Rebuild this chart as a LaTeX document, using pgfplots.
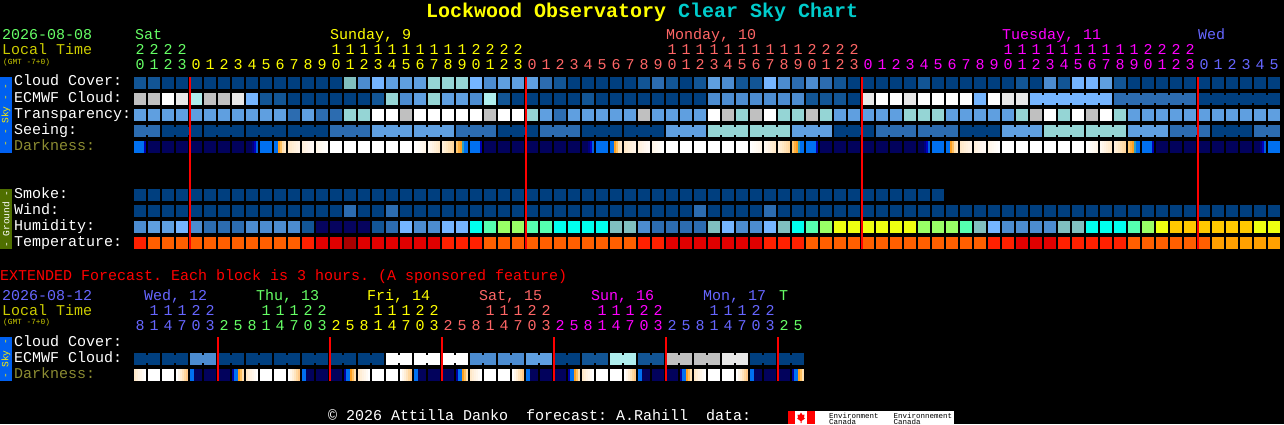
\documentclass[border=0pt]{standalone}
\usepackage{pgfplots}
\pgfplotsset{compat=1.18}
\usepackage{fontspec}
\setmainfont{Liberation Mono}
\definecolor{ca}{HTML}{003F7F}\definecolor{cb}{HTML}{125595}\definecolor{cc}{HTML}{2C6CB0}
\definecolor{cd}{HTML}{4C8CD0}\definecolor{ce}{HTML}{5F9FE0}\definecolor{cf}{HTML}{75B5FF}
\definecolor{cg}{HTML}{80BFBF}\definecolor{ch}{HTML}{95D5D5}\definecolor{ci}{HTML}{AFEEEE}
\definecolor{cj}{HTML}{C0C0C0}\definecolor{ck}{HTML}{E8E8E8}\definecolor{cl}{HTML}{FFFFFF}
\definecolor{cn}{HTML}{06045E}\definecolor{cp}{HTML}{00FFEE}\definecolor{cq}{HTML}{55FFB0}
\definecolor{cr}{HTML}{99FF66}\definecolor{cs}{HTML}{EEFF11}\definecolor{ct}{HTML}{FFC800}
\definecolor{cu}{HTML}{FF2000}\definecolor{cv}{HTML}{FF5F00}\definecolor{cw}{HTML}{E00000}
\definecolor{cx}{HTML}{A80000}\definecolor{cy}{HTML}{FFA000}
\definecolor{dN}{HTML}{02025C}\definecolor{dB}{HTML}{0070F0}
\definecolor{tg}{HTML}{66FF66}\definecolor{ty}{HTML}{FFFF00}\definecolor{tr}{HTML}{FF6666}
\definecolor{tm}{HTML}{FF00FF}\definecolor{tb}{HTML}{6666FF}\definecolor{to}{HTML}{CCCC00}
\definecolor{td}{HTML}{8C8C32}\definecolor{tc}{HTML}{00CCCC}
\definecolor{skyb}{HTML}{0060F0}\definecolor{grnd}{HTML}{4F6F00}
% a darkness block: six stripes, two units wide, left to right
\newcommand\stripe[2]{\definecolor{stripecol}{HTML}{#2}\pgfsetfillcolor{stripecol}%
  \pgfpathrectangle{\pgfpoint{#1pt}{-6pt}}{\pgfpoint{2.15pt}{12pt}}\pgfusepathqfill}
\newcommand\dshade[7]{\pgfdeclareplotmark{#1}{\stripe{-6}{#2}\stripe{-4}{#3}\stripe{-2}{#4}\stripe{0}{#5}\stripe{2}{#6}%
  \definecolor{stripecol}{HTML}{#7}\pgfsetfillcolor{stripecol}\pgfpathrectangle{\pgfpoint{4pt}{-6pt}}{\pgfpoint{2pt}{12pt}}\pgfusepathqfill}}
\dshade{dsQ}{02025C}{02025C}{02025C}{000080}{0000C0}{0060E0}
\dshade{dsF}{0070F0}{0070F0}{0070F0}{0070F0}{0070F0}{0000B0}
\dshade{dsX}{0070F0}{0070F0}{FFA020}{FFC060}{FFE0B0}{FFE8C8}
\dshade{dsG}{FFE8C8}{FFEBCF}{FFEED6}{FFF0DC}{FFF2E2}{FFF4E8}
\dshade{dsH}{FFF0DC}{FFF2E2}{FFF4E8}{FFF6EE}{FFF8F2}{FFFAF6}
\dshade{dsI}{FFF6E8}{FFF8EE}{FFFAF2}{FFFCF6}{FFFDFA}{FFFFFF}
\dshade{dsJ}{FFFFFF}{FFFDFA}{FFFCF6}{FFFAF2}{FFF8EE}{FFF6E8}
\dshade{dsK}{FFFAF2}{FFF6EA}{FFF2E2}{FFEFD8}{FFECD0}{FFE8C8}
\dshade{dsL}{FFF0DC}{FFECD0}{FFE8C4}{FFE2B8}{FFDDAC}{FFD8A0}
\dshade{dsE}{FFC870}{FFB040}{FFA020}{30A0C0}{0070F0}{0070F0}
\dshade{dsU}{FFE8C8}{FFEED6}{FFF2E2}{FFF6EA}{FFFAF4}{FFFFFF}
\dshade{dsV}{FFFFFF}{FFF6EA}{FFEED6}{FFE4BE}{FFD8A0}{FFC888}
\dshade{dsY}{0070F0}{0070F0}{02025C}{02025C}{02025C}{02025C}
\dshade{dsT}{0000A0}{0070F0}{0070F0}{FFA020}{FFC060}{FFE0B0}
\pgfdeclareplotmark{cell}{\pgfpathrectangle{\pgfpoint{-6pt}{-6pt}}{\pgfpoint{12pt}{12pt}}\pgfusepathqfill}
\pgfdeclareplotmark{bridge}{\pgfpathrectangle{\pgfpoint{-2pt}{-4pt}}{\pgfpoint{4pt}{8pt}}\pgfusepathqfill}
\pgfplotsset{
  palette/.style={scatter,only marks,scatter src=explicit symbolic,scatter/classes={
    a={mark=#1,fill=ca,draw=none},b={mark=#1,fill=cb,draw=none},c={mark=#1,fill=cc,draw=none},
    d={mark=#1,fill=cd,draw=none},e={mark=#1,fill=ce,draw=none},f={mark=#1,fill=cf,draw=none},
    g={mark=#1,fill=cg,draw=none},h={mark=#1,fill=ch,draw=none},i={mark=#1,fill=ci,draw=none},
    j={mark=#1,fill=cj,draw=none},k={mark=#1,fill=ck,draw=none},l={mark=#1,fill=cl,draw=none},
    n={mark=#1,fill=cn,draw=none},p={mark=#1,fill=cp,draw=none},q={mark=#1,fill=cq,draw=none},
    r={mark=#1,fill=cr,draw=none},s={mark=#1,fill=cs,draw=none},t={mark=#1,fill=ct,draw=none},
    u={mark=#1,fill=cu,draw=none},v={mark=#1,fill=cv,draw=none},w={mark=#1,fill=cw,draw=none},
    x={mark=#1,fill=cx,draw=none},y={mark=#1,fill=cy,draw=none}}},
  darkpal/.style={scatter,only marks,scatter src=explicit symbolic,scatter/classes={
    P={mark=cell,fill=dN,draw=none},B={mark=cell,fill=dB,draw=none},W={mark=cell,fill=white,draw=none},
    Q={mark=dsQ},F={mark=dsF},X={mark=dsX},G={mark=dsG},H={mark=dsH},I={mark=dsI},
    J={mark=dsJ},K={mark=dsK},L={mark=dsL},E={mark=dsE},U={mark=dsU},V={mark=dsV},
    Y={mark=dsY},T={mark=dsT}}},
  rowat/.style={table/row sep=\\,table/meta=c,table/x expr={140+14*\coordindex},table/y expr=#1},
  redl/.style={red,line width=2pt,no marks}
}
\newcommand\digs[4]{\foreach \d [count=\k from #2] in {#4} {\node[anchor=base,text=#3] at ({140+14*\k},#1) {\d};}}
\newcommand\lab[4]{\node[anchor=base west,text=#4] at (#1,#2) {#3};}
\frenchspacing
\begin{document}
\begin{tikzpicture}
\path[use as bounding box] (0,0) rectangle (1284pt,424pt);
\fill[black] (0,0) rectangle (1284pt,424pt);
\begin{axis}[at={(0pt,0pt)},anchor=south west,scale only axis,width=1284pt,height=424pt,
  xmin=0,xmax=1284,ymin=0,ymax=424,y dir=reverse,hide axis,clip marker paths=true]
% Cloud Cover
\addplot[palette=cell] table[rowat=83]{c\\
b\\b\\a\\a\\a\\a\\a\\a\\a\\a\\
a\\a\\a\\a\\a\\g\\d\\f\\e\\e\\
e\\h\\h\\h\\f\\d\\e\\e\\e\\c\\
b\\a\\a\\a\\a\\a\\b\\c\\b\\a\\
b\\e\\d\\b\\b\\f\\d\\c\\d\\c\\
b\\a\\a\\a\\a\\a\\b\\a\\a\\a\\
a\\a\\a\\b\\a\\d\\b\\f\\f\\e\\
b\\a\\a\\a\\a\\a\\a\\a\\a\\a\\a\\a\\};
% ECMWF Cloud
\addplot[palette=cell] table[rowat=99]{c\\
j\\j\\l\\k\\i\\j\\j\\k\\f\\b\\
b\\a\\a\\a\\a\\a\\a\\b\\h\\d\\
e\\h\\e\\e\\d\\i\\b\\a\\a\\a\\
a\\a\\b\\a\\a\\a\\a\\a\\a\\a\\
a\\d\\d\\d\\d\\d\\d\\d\\b\\b\\
b\\a\\k\\l\\l\\k\\l\\l\\l\\l\\
f\\l\\k\\k\\f\\f\\f\\f\\f\\f\\
c\\c\\c\\c\\c\\c\\a\\a\\a\\a\\a\\a\\};
\addplot[palette=bridge] table[rowat=99,x expr={(\coordindex<64 || \coordindex>80 || mod(\coordindex-64,6)==5) ? nan : 147+14*\coordindex}]{c\\
j\\j\\l\\k\\i\\j\\j\\k\\f\\b\\
b\\a\\a\\a\\a\\a\\a\\b\\h\\d\\
e\\h\\e\\e\\d\\i\\b\\a\\a\\a\\
a\\a\\b\\a\\a\\a\\a\\a\\a\\a\\
a\\d\\d\\d\\d\\d\\d\\d\\b\\b\\
b\\a\\k\\l\\l\\k\\l\\l\\l\\l\\
f\\l\\k\\k\\f\\f\\f\\f\\f\\f\\
c\\c\\c\\c\\c\\c\\a\\a\\a\\a\\a\\a\\};
% Transparency
\addplot[palette=cell] table[rowat=115]{c\\
e\\e\\e\\e\\e\\e\\e\\e\\e\\e\\
e\\c\\e\\c\\c\\h\\h\\l\\l\\j\\
l\\l\\l\\l\\l\\j\\l\\l\\h\\e\\
c\\e\\e\\e\\e\\e\\j\\e\\e\\e\\
e\\l\\j\\h\\j\\l\\h\\h\\j\\h\\
e\\e\\e\\e\\e\\h\\h\\h\\e\\e\\
e\\e\\e\\h\\j\\l\\h\\l\\j\\l\\
h\\e\\e\\e\\e\\e\\e\\e\\e\\e\\e\\e\\};
% Seeing
\addplot[palette=cell] table[rowat=131]{c\\
c\\c\\a\\a\\a\\a\\a\\a\\a\\a\\
a\\a\\a\\a\\c\\c\\c\\e\\e\\e\\
e\\e\\e\\c\\c\\c\\a\\a\\a\\c\\
c\\c\\a\\a\\a\\a\\a\\a\\e\\e\\
e\\h\\h\\h\\h\\h\\h\\e\\e\\e\\
a\\a\\a\\c\\c\\c\\c\\c\\c\\a\\
a\\a\\e\\e\\e\\h\\h\\h\\h\\h\\
h\\e\\e\\e\\c\\c\\c\\a\\a\\a\\c\\c\\};
\addplot[palette=bridge] table[rowat=131,x expr={(mod(\coordindex,3)==1 || \coordindex>80) ? nan : 147+14*\coordindex}]{c\\
c\\c\\a\\a\\a\\a\\a\\a\\a\\a\\
a\\a\\a\\a\\c\\c\\c\\e\\e\\e\\
e\\e\\e\\c\\c\\c\\a\\a\\a\\c\\
c\\c\\a\\a\\a\\a\\a\\a\\e\\e\\
e\\h\\h\\h\\h\\h\\h\\e\\e\\e\\
a\\a\\a\\c\\c\\c\\c\\c\\c\\a\\
a\\a\\e\\e\\e\\h\\h\\h\\h\\h\\
h\\e\\e\\e\\c\\c\\c\\a\\a\\a\\c\\c\\};
% Darkness
\addplot[darkpal] table[rowat=147]{c\\
F\\P\\P\\P\\P\\P\\P\\P\\Q\\B\\X\\G\\H\\I\\W\\W\\W\\W\\W\\W\\J\\K\\L\\E\\
F\\P\\P\\P\\P\\P\\P\\P\\Q\\B\\X\\G\\H\\I\\W\\W\\W\\W\\W\\W\\J\\K\\L\\E\\
F\\P\\P\\P\\P\\P\\P\\P\\Q\\B\\X\\G\\H\\I\\W\\W\\W\\W\\W\\W\\J\\K\\L\\E\\
F\\P\\P\\P\\P\\P\\P\\P\\Q\\B\\};
% Smoke
\addplot[palette=cell] table[rowat=195]{c\\
a\\a\\a\\a\\a\\a\\a\\a\\a\\a\\
a\\a\\a\\a\\a\\a\\a\\a\\a\\a\\
a\\a\\a\\a\\a\\a\\a\\a\\a\\a\\
a\\a\\a\\a\\a\\a\\a\\a\\a\\a\\
a\\a\\a\\a\\a\\a\\a\\a\\a\\a\\
a\\a\\a\\a\\a\\a\\a\\a\\};
% Wind
\addplot[palette=cell] table[rowat=211]{c\\
a\\a\\a\\a\\a\\a\\a\\a\\a\\a\\
a\\a\\a\\a\\a\\c\\a\\a\\c\\a\\
a\\a\\a\\a\\a\\a\\a\\a\\a\\a\\
a\\a\\a\\a\\a\\a\\a\\a\\a\\a\\
c\\a\\a\\a\\a\\c\\a\\a\\a\\a\\
a\\a\\a\\a\\a\\a\\a\\a\\a\\a\\
a\\a\\a\\a\\a\\a\\a\\a\\a\\a\\
a\\a\\a\\a\\a\\a\\a\\a\\a\\a\\a\\a\\};
% Humidity
\addplot[palette=cell] table[rowat=227]{c\\
d\\e\\e\\f\\d\\c\\c\\c\\d\\d\\
d\\d\\b\\n\\n\\n\\n\\b\\c\\f\\
d\\d\\f\\f\\p\\q\\r\\r\\q\\q\\
p\\p\\p\\p\\g\\g\\d\\c\\c\\c\\
c\\g\\f\\d\\d\\f\\g\\p\\q\\r\\
s\\s\\s\\s\\s\\s\\r\\r\\r\\q\\
g\\f\\d\\d\\d\\d\\g\\g\\p\\p\\
p\\q\\r\\s\\t\\t\\t\\t\\t\\t\\s\\s\\};
% Temperature
\addplot[palette=cell] table[rowat=243]{c\\
u\\v\\v\\v\\v\\v\\v\\v\\v\\v\\
v\\v\\u\\w\\w\\x\\w\\w\\w\\w\\
w\\w\\u\\u\\u\\v\\v\\v\\v\\v\\
v\\v\\v\\v\\v\\v\\u\\u\\w\\w\\
w\\w\\w\\w\\w\\u\\u\\u\\v\\v\\
v\\v\\v\\v\\v\\v\\v\\v\\v\\v\\
v\\u\\u\\w\\w\\w\\u\\u\\u\\u\\
u\\v\\v\\v\\v\\v\\v\\y\\y\\y\\y\\y\\};
% Extended ECMWF Cloud
\addplot[palette=cell] table[rowat=359]{c\\
a\\a\\a\\a\\d\\d\\a\\a\\a\\a\\a\\a\\a\\a\\a\\a\\a\\a\\l\\l\\l\\l\\l\\l\\
d\\d\\d\\d\\e\\e\\a\\a\\b\\b\\i\\i\\b\\b\\j\\j\\j\\j\\k\\k\\a\\a\\a\\a\\};
\addplot[palette=bridge] table[rowat=359,x expr={mod(\coordindex,2)==1 ? nan : 147+14*\coordindex}]{c\\
a\\a\\a\\a\\d\\d\\a\\a\\a\\a\\a\\a\\a\\a\\a\\a\\a\\a\\l\\l\\l\\l\\l\\l\\
d\\d\\d\\d\\e\\e\\a\\a\\b\\b\\i\\i\\b\\b\\j\\j\\j\\j\\k\\k\\a\\a\\a\\a\\};
% Extended Darkness
\addplot[darkpal] table[rowat=375]{c\\
U\\W\\W\\V\\Y\\P\\P\\T\\U\\W\\W\\V\\Y\\P\\P\\T\\U\\W\\W\\V\\Y\\P\\P\\T\\
U\\W\\W\\V\\Y\\P\\P\\T\\U\\W\\W\\V\\Y\\P\\P\\T\\U\\W\\W\\V\\Y\\P\\P\\T\\};
% midnight lines
\addplot[redl] coordinates {(190,77)(190,249)};
\addplot[redl] coordinates {(526,77)(526,249)};
\addplot[redl] coordinates {(862,77)(862,249)};
\addplot[redl] coordinates {(1198,77)(1198,249)};
\addplot[redl] coordinates {(218,337)(218,381)};
\addplot[redl] coordinates {(330,337)(330,381)};
\addplot[redl] coordinates {(442,337)(442,381)};
\addplot[redl] coordinates {(554,337)(554,381)};
\addplot[redl] coordinates {(666,337)(666,381)};
\addplot[redl] coordinates {(778,337)(778,381)};
\end{axis}
\begin{scope}[x=1pt,y=-1pt,yshift=424pt,every node/.style={inner sep=0pt,font=\fontsize{15}{15}\selectfont}]
\fill[skyb] (0,77) rectangle (12,153);
\fill[grnd] (0,189) rectangle (12,249);
\fill[skyb] (0,337) rectangle (12,381);
\node[rotate=90,text=yellow,font=\fontsize{9.5}{10}\selectfont] at (6,115) {- - Sky - -};
\node[rotate=90,text=white,font=\fontsize{9.5}{10}\selectfont] at (6,219) {- Ground -};
\node[rotate=90,text=yellow,font=\fontsize{9.5}{10}\selectfont] at (6,359) {- Sky -};
% title
\node[anchor=base west,text=ty,font=\fontsize{20}{20}\selectfont\bfseries] at (426,18) {Lockwood Observatory};
\node[anchor=base west,text=tc,font=\fontsize{20}{20}\selectfont\bfseries] at (678,18) {Clear Sky Chart};
% main header
\lab{2}{40}{2026-08-08}{tg}
\lab{135}{40}{Sat}{tg}
\lab{330}{40}{Sunday, 9}{ty}
\lab{666}{40}{Monday, 10}{tr}
\lab{1002}{40}{Tuesday, 11}{tm}
\lab{1198}{40}{Wed}{tb}
\lab{2}{55}{Local Time}{to}
\node[anchor=base west,text=to,font=\fontsize{7.8}{8}\selectfont] at (3,65) {(GMT -7+0)};
\digs{55}{0}{tg}{2,2,2,2}
\digs{55}{14}{ty}{1,1,1,1,1,1,1,1,1,1,2,2,2,2}
\digs{55}{38}{tr}{1,1,1,1,1,1,1,1,1,1,2,2,2,2}
\digs{55}{62}{tm}{1,1,1,1,1,1,1,1,1,1,2,2,2,2}
\digs{70}{0}{tg}{0,1,2,3}
\digs{70}{4}{ty}{0,1,2,3,4,5,6,7,8,9,0,1,2,3,4,5,6,7,8,9,0,1,2,3}
\digs{70}{28}{tr}{0,1,2,3,4,5,6,7,8,9,0,1,2,3,4,5,6,7,8,9,0,1,2,3}
\digs{70}{52}{tm}{0,1,2,3,4,5,6,7,8,9,0,1,2,3,4,5,6,7,8,9,0,1,2,3}
\digs{70}{76}{tb}{0,1,2,3,4,5}
% row labels
\lab{14}{86}{Cloud Cover:}{white}
\lab{14}{102}{ECMWF Cloud:}{white}
\lab{14}{118}{Transparency:}{white}
\lab{14}{134}{Seeing:}{white}
\lab{14}{150}{Darkness:}{td}
\lab{14}{198}{Smoke:}{white}
\lab{14}{214}{Wind:}{white}
\lab{14}{230}{Humidity:}{white}
\lab{14}{246}{Temperature:}{white}
% extended
\lab{0}{280}{EXTENDED Forecast. Each block is 3 hours. (A sponsored feature)}{red}
\lab{2}{300}{2026-08-12}{tb}
\lab{144}{300}{Wed, 12}{tb}
\lab{256}{300}{Thu, 13}{tg}
\lab{367}{300}{Fri, 14}{ty}
\lab{479}{300}{Sat, 15}{tr}
\lab{591}{300}{Sun, 16}{tm}
\lab{703}{300}{Mon, 17}{tb}
\lab{779}{300}{T}{tg}
\lab{2}{315}{Local Time}{to}
\node[anchor=base west,text=to,font=\fontsize{7.8}{8}\selectfont] at (3,324) {(GMT -7+0)};
\digs{315}{1}{tb}{1,1,1,2,2}
\digs{315}{9}{tg}{1,1,1,2,2}
\digs{315}{17}{ty}{1,1,1,2,2}
\digs{315}{25}{tr}{1,1,1,2,2}
\digs{315}{33}{tm}{1,1,1,2,2}
\digs{315}{41}{tb}{1,1,1,2,2}
\digs{330}{0}{tb}{8,1,4,7,0,3}
\digs{330}{6}{tg}{2,5,8,1,4,7,0,3}
\digs{330}{14}{ty}{2,5,8,1,4,7,0,3}
\digs{330}{22}{tr}{2,5,8,1,4,7,0,3}
\digs{330}{30}{tm}{2,5,8,1,4,7,0,3}
\digs{330}{38}{tb}{2,5,8,1,4,7,0,3}
\digs{330}{46}{tg}{2,5}
\lab{14}{346}{Cloud Cover:}{white}
\lab{14}{362}{ECMWF Cloud:}{white}
\lab{14}{378}{Darkness:}{td}
% footer
\lab{328}{420}{© 2026 Attilla Danko~ forecast: A.Rahill~ data:}{white}
\fill[white] (788,411) rectangle (954,424);
\fill[red] (788,411) rectangle (795,424);
\fill[red] (807,411) rectangle (815,424);
\fill[red] (801,412.5) -- (802.5,415) -- (804.5,414.5) -- (804,418) -- (805,418.5) -- (801.5,421) -- (801.5,423) -- (800.5,423) -- (800.5,421) -- (797,418.5) -- (798,418) -- (797.5,414.5) -- (799.5,415) -- cycle;
\node[anchor=base west,text=black,font=\fontsize{7.5}{8}\selectfont] at (829,418) {Environment};
\node[anchor=base west,text=black,font=\fontsize{7.5}{8}\selectfont] at (829,424) {Canada};
\node[anchor=base west,text=black,font=\fontsize{7.5}{8}\selectfont] at (893.5,418) {Environnement};
\node[anchor=base west,text=black,font=\fontsize{7.5}{8}\selectfont] at (893.5,424) {Canada};
\end{scope}
\end{tikzpicture}
\end{document}
